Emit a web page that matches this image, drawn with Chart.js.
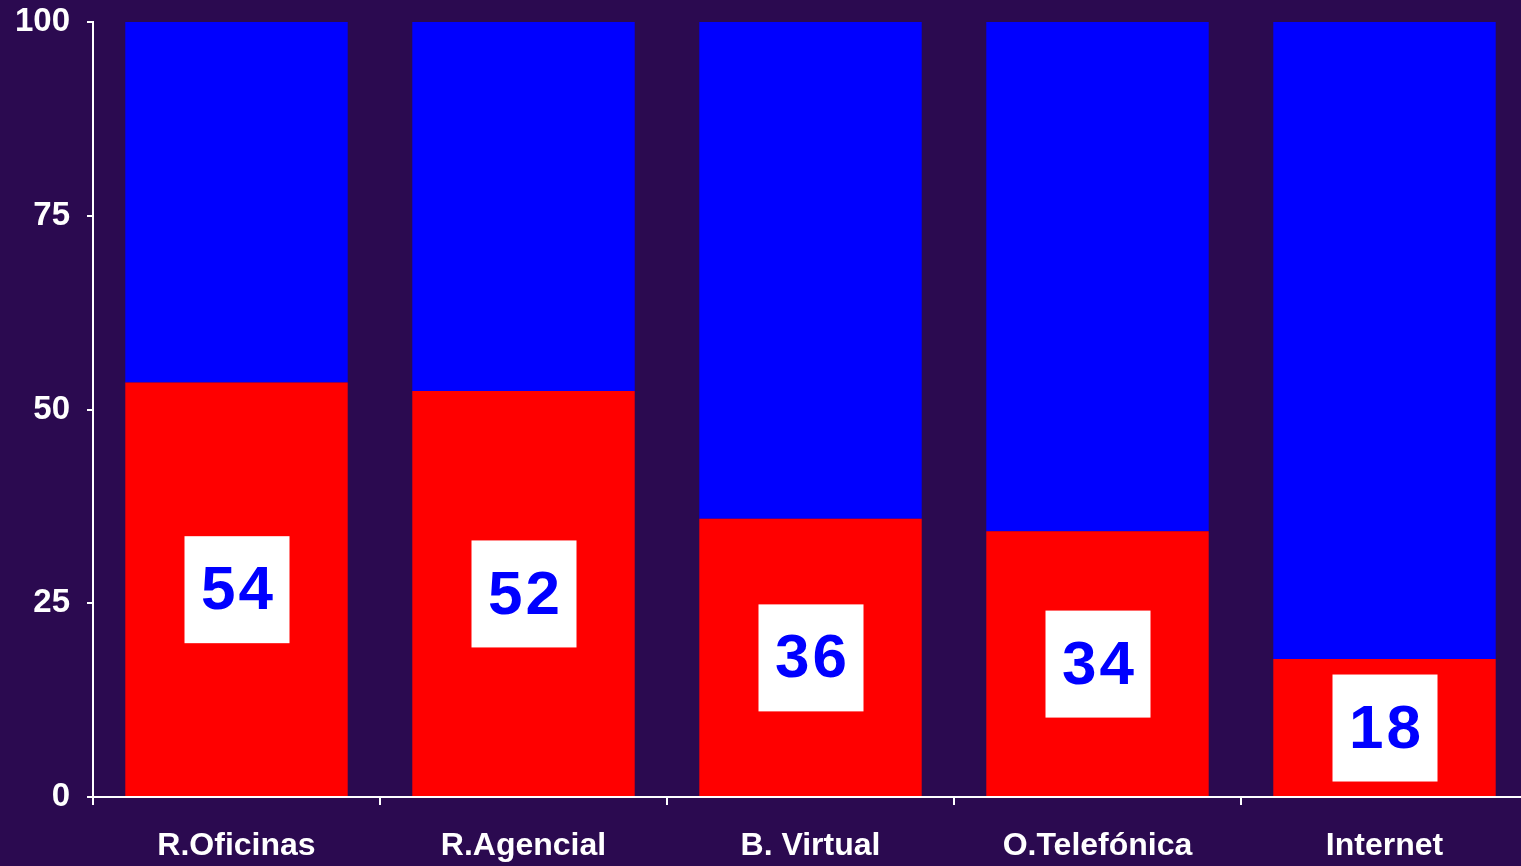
<!DOCTYPE html>
<html>
<head>
<meta charset="utf-8">
<script src="https://cdn.jsdelivr.net/npm/chart.js@4"></script>
<style>
  html, body { margin: 0; padding: 0; background: #2b0a50; overflow: hidden; }
  #wrap { width: 1528px; height: 866px; }
</style>
</head>
<body>
<div id="wrap"><canvas id="barChart" width="1528" height="866"></canvas></div>
<script>
const categories = ['R.Oficinas', 'R.Agencial', 'B. Virtual', 'O.Telefónica', 'Internet'];
const redValues = [53.5, 52.4, 35.9, 34.3, 17.8];
const blueValues = [46.5, 47.6, 64.1, 65.7, 82.2];
const yTicks = [0, 25, 50, 75, 100];

const labelBoxes = {
    id: 'labelBoxes',
    afterDatasetsDraw(chart) {
        const ctx = chart.ctx;
        const meta = chart.getDatasetMeta(0);
        ctx.save();
        ctx.font = 'bold 62px "Liberation Sans", Arial, sans-serif';
        ctx.textAlign = 'center';
        ctx.textBaseline = 'middle';
        if ('letterSpacing' in ctx) ctx.letterSpacing = '3px';
        meta.data.forEach((bar, i) => {
            const cx = bar.x;
            const cy = (bar.y + bar.base) / 2;
            ctx.fillStyle = '#ffffff';
            ctx.fillRect(cx - 52, cy - 53, 105, 107);
            ctx.fillStyle = '#0000ff';
            ctx.fillText(String(Math.round(redValues[i])), cx + 2, cy + 3);
        });
        ctx.restore();
    }
};

const ctx = document.getElementById('barChart').getContext('2d');
new Chart(ctx, {
    type: 'bar',
    data: {
        labels: categories,
        datasets: [
            { data: redValues, backgroundColor: '#ff0000', borderWidth: 0 },
            { data: blueValues, backgroundColor: '#0000ff', borderWidth: 0 }
        ]
    },
    options: {
        responsive: false,
        animation: false,
        events: [],
        layout: { padding: { top: 22, left: 0, right: 0, bottom: 0 } },
        categoryPercentage: 1,
        barPercentage: 0.775,
        plugins: { legend: { display: false }, tooltip: { enabled: false } },
        scales: {
            x: {
                stacked: true,
                border: { color: '#ffffff', width: 2 },
                grid: { color: '#ffffff', lineWidth: 2, drawOnChartArea: false, tickLength: 8 },
                ticks: {
                    color: '#ffffff',
                    padding: 22,
                    maxRotation: 0,
                    font: { family: '"Liberation Sans", Arial, sans-serif', weight: 'bold', size: 32 }
                },
                afterFit(scale) {
                    scale.height = 69;
                    scale.paddingLeft = 0;
                    scale.paddingRight = 0;
                }
            },
            y: {
                stacked: true,
                min: 0,
                max: 100,
                afterBuildTicks(scale) { scale.ticks = yTicks.map(v => ({ value: v })); },
                border: { color: '#ffffff', width: 2 },
                grid: { color: '#ffffff', lineWidth: 2, drawOnChartArea: false, tickLength: 6 },
                ticks: {
                    color: '#ffffff',
                    padding: 17,
                    font: { family: '"Liberation Sans", Arial, sans-serif', weight: 'bold', size: 33 }
                },
                afterFit(scale) {
                    scale.width = 93;
                    scale.paddingTop = 0;
                    scale.paddingBottom = 0;
                }
            }
        }
    },
    plugins: [labelBoxes]
});
</script>
</body>
</html>
